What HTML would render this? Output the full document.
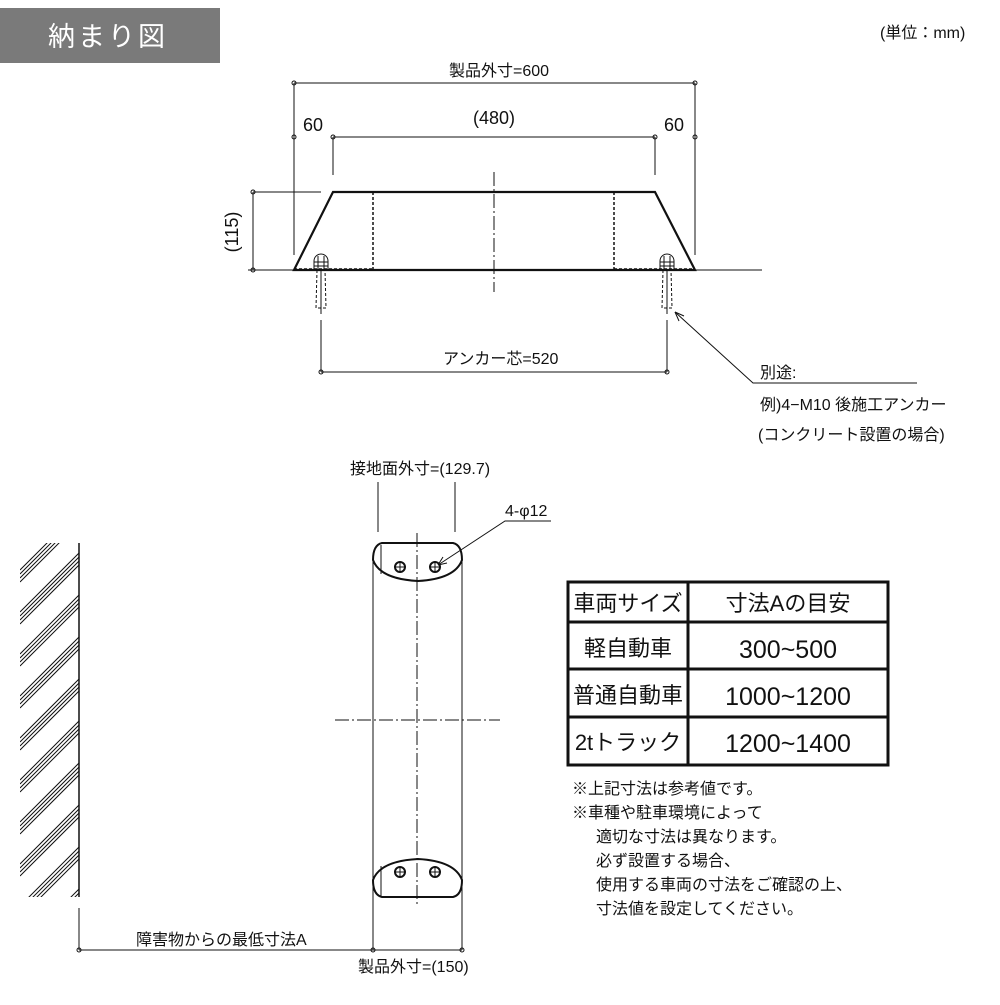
<!DOCTYPE html>
<html><head><meta charset="utf-8"><style>
body{margin:0;background:#fff}
svg text{font-family:"Liberation Sans","Noto Sans CJK JP",sans-serif;fill:#111}
</style></head><body>
<svg width="1000" height="1000" viewBox="0 0 1000 1000" xmlns="http://www.w3.org/2000/svg">
<rect x="0" y="8" width="220" height="55" fill="#7a7a7a"/>
<text x="48" y="46" font-size="27" fill="#fff" style="fill:#fff" letter-spacing="3">納まり図</text>
<text x="880" y="38" font-size="16">(単位：mm)</text>

<g stroke="#111" fill="none" stroke-width="1">
<line x1="294" y1="83" x2="695" y2="83"/>
<line x1="294" y1="83" x2="294" y2="255"/>
<line x1="695" y1="83" x2="695" y2="255"/>
<line x1="333" y1="137" x2="655" y2="137"/>
<line x1="333" y1="137" x2="333" y2="175"/>
<line x1="655" y1="137" x2="655" y2="175"/>
<circle cx="294" cy="83" r="2"/><circle cx="695" cy="83" r="2"/>
<circle cx="333" cy="137" r="2"/><circle cx="655" cy="137" r="2"/>
<circle cx="294" cy="137" r="2"/><circle cx="695" cy="137" r="2"/>
<line x1="253" y1="192" x2="321" y2="192"/>
<line x1="253" y1="192" x2="253" y2="270"/>
<circle cx="253" cy="192" r="2"/><circle cx="253" cy="270" r="2"/>
<line x1="248" y1="270" x2="762" y2="270"/>
<polygon points="294,270 333,192 655,192 695,270" stroke-width="2.2"/>
<line x1="373" y1="192" x2="373" y2="270" stroke-dasharray="3,2" stroke-width="1.5"/>
<line x1="614" y1="192" x2="614" y2="270" stroke-dasharray="3,2" stroke-width="1.5"/>
<line x1="294" y1="269" x2="373" y2="269" stroke-dasharray="3,2" stroke-width="1.5"/>
<line x1="614" y1="269" x2="695" y2="269" stroke-dasharray="3,2" stroke-width="1.5"/>
<line x1="494" y1="172" x2="494" y2="292" stroke-dasharray="14,3,2,3"/>
<g id="b">
<path d="M314,270 v-9 a7,7 0 0 1 14,0 v9"/>
<path d="M314,262 h14 M314,266 h14"/>
<line x1="318" y1="256" x2="318" y2="270"/><line x1="324" y1="256" x2="324" y2="270"/>
<path d="M317,270 L316,308 h10 L325,270" stroke-dasharray="3,2"/>
<line x1="321" y1="270" x2="321" y2="314"/>
</g>
<use href="#b" transform="translate(346,0)"/>
<line x1="321" y1="320" x2="321" y2="372"/>
<line x1="667" y1="320" x2="667" y2="372"/>
<line x1="321" y1="372" x2="667" y2="372"/>
<circle cx="321" cy="372" r="2"/><circle cx="667" cy="372" r="2"/>
<polyline points="675,312 753,383 917,383"/>
<path d="M675,312 l4,9 M675,312 l9,4"/>
<line x1="79" y1="543" x2="79" y2="897" stroke-width="1.5"/>
<line x1="79" y1="908" x2="79" y2="950"/>
</g>
<g stroke="#111" stroke-width="1">
<clipPath id="wc"><rect x="20" y="543" width="59" height="354"/></clipPath>
<g clip-path="url(#wc)">
<g id="h"><line x1="20" y1="570" x2="79" y2="511"/><line x1="20" y1="574" x2="79" y2="515"/><line x1="20" y1="578" x2="79" y2="519"/><line x1="20" y1="582" x2="79" y2="523"/></g>
<use href="#h" transform="translate(0,42)"/><use href="#h" transform="translate(0,84)"/><use href="#h" transform="translate(0,126)"/><use href="#h" transform="translate(0,168)"/><use href="#h" transform="translate(0,210)"/><use href="#h" transform="translate(0,252)"/><use href="#h" transform="translate(0,294)"/><use href="#h" transform="translate(0,336)"/><use href="#h" transform="translate(0,378)"/><use href="#h" transform="translate(0,420)"/>
</g>
</g>

<g stroke="#111" fill="none" stroke-width="1">
<line x1="373" y1="560" x2="373" y2="950"/>
<line x1="462" y1="560" x2="462" y2="950"/>
<path d="M382,543 H453 Q462,545 462,560 Q455,579 418,581 Q380,579 373,560 Q373,545 382,543 Z" stroke-width="2"/>
<line x1="381" y1="545" x2="381" y2="574"/>
<path d="M382,897 H453 Q462,895 462,880 Q455,861 418,859 Q380,861 373,880 Q373,895 382,897 Z" stroke-width="2"/>
<line x1="381" y1="866" x2="381" y2="896"/>
<g stroke-width="2"><circle cx="400" cy="567" r="5"/><circle cx="435" cy="567" r="5"/><circle cx="400" cy="872" r="5"/><circle cx="435" cy="872" r="5"/></g>
<path d="M395,567h10M400,562v10M430,567h10M435,562v10M395,872h10M400,867v10M430,872h10M435,867v10"/>
<line x1="417" y1="533" x2="417" y2="907" stroke-dasharray="14,3,2,3"/>
<line x1="335" y1="720" x2="500" y2="720" stroke-dasharray="14,3,2,3"/>
<line x1="378" y1="482" x2="378" y2="532"/>
<line x1="455" y1="482" x2="455" y2="532"/>
<polyline points="438,565 505,521 551,521"/>
<path d="M438,565 l9,-2 M438,565 l5,-8"/>
<line x1="79" y1="950" x2="462" y2="950"/>
<circle cx="79" cy="950" r="2"/><circle cx="373" cy="950" r="2"/><circle cx="462" cy="950" r="2"/>
<rect x="568" y="582" width="320" height="183" stroke-width="3"/>
<line x1="688" y1="582" x2="688" y2="765" stroke-width="3"/>
<line x1="568" y1="622" x2="888" y2="622" stroke-width="3"/>
<line x1="568" y1="669" x2="888" y2="669" stroke-width="3"/>
<line x1="568" y1="717" x2="888" y2="717" stroke-width="3"/>
</g>

<g font-size="16">
<text x="449" y="76">製品外寸=600</text>
<text x="494" y="124" text-anchor="middle" font-size="18">(480)</text>
<text x="313" y="131" text-anchor="middle" font-size="18">60</text>
<text x="674" y="131" text-anchor="middle" font-size="18">60</text>
<text x="238" y="232" text-anchor="middle" font-size="18" transform="rotate(-90 238 232)">(115)</text>
<text x="443" y="364">アンカー芯=520</text>
<text x="760" y="378">別途:</text>
<text x="760" y="410">例)4−M10 後施工アンカー</text>
<text x="758" y="440">(コンクリート設置の場合)</text>
<text x="350" y="474">接地面外寸=(129.7)</text>
<text x="505" y="516">4-φ12</text>
<text x="136" y="945">障害物からの最低寸法A</text>
<text x="358" y="972">製品外寸=(150)</text>
</g>
<g font-size="22" text-anchor="middle">
<text x="628" y="611">車両サイズ</text>
<text x="788" y="611">寸法Aの目安</text>
<text x="628" y="656">軽自動車</text>
<text x="788" y="658" font-size="25">300~500</text>
<text x="628" y="703">普通自動車</text>
<text x="788" y="705" font-size="25">1000~1200</text>
<text x="628" y="750">2tトラック</text>
<text x="788" y="752" font-size="25">1200~1400</text>
</g>
<g font-size="16">
<text x="572" y="794">※上記寸法は参考値です。</text>
<text x="572" y="818">※車種や駐車環境によって</text>
<text x="596" y="842">適切な寸法は異なります。</text>
<text x="596" y="866">必ず設置する場合、</text>
<text x="596" y="890">使用する車両の寸法をご確認の上、</text>
<text x="596" y="914">寸法値を設定してください。</text>
</g>
</svg>
</body></html>
